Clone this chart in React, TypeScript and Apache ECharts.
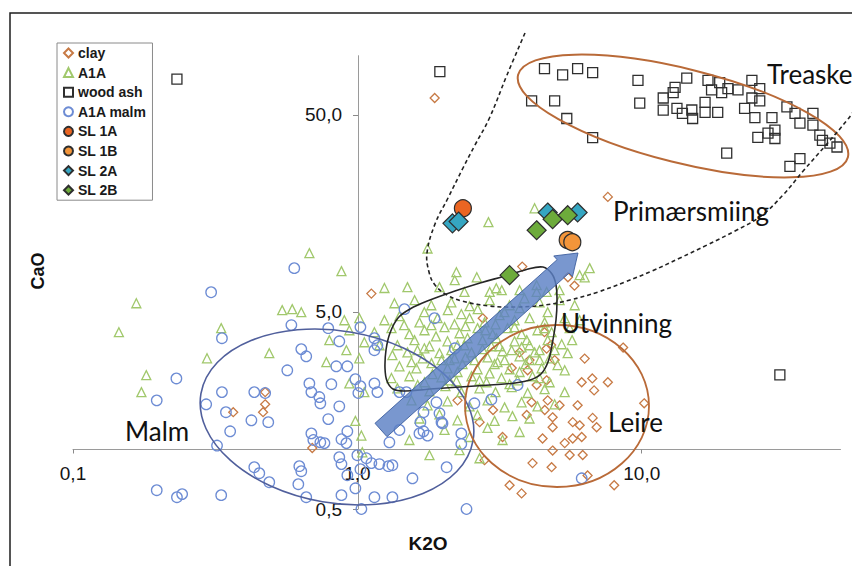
import React, { useEffect, useRef } from 'react';
import * as echarts from 'echarts';

// [K2O, CaO] pairs
const clay: number[][] = [
  [1.87, 61], [7.6, 19.2], [1.12, 6.2], [3.8, 8.5], [5.5, 7.5], [5.8, 6.8], [2.76, 4.65],
  [4.55, 3.95], [4.63, 3.26], [4.8, 3.4], [4.94, 2.85], [3.72, 3.12], [4.03, 2.85], [3.97, 2.53], [3.49, 2.6],
  [6.3, 2.9], [8.6, 3.3], [6.15, 2.2], [6.7, 2.3], [7.6, 2.2], [6.8, 2.0], [4.63, 2.25], [4.27, 2.13],
  [4.1, 1.74], [4.67, 1.78], [5.14, 1.68], [5.95, 1.68], [10.2, 1.72], [2.25, 1.78], [3.0, 1.59], [3.94, 1.5],
  [4.56, 1.59], [4.86, 1.46], [4.86, 1.3], [5.72, 1.38], [6.05, 1.33], [6.72, 1.45], [6.94, 1.3], [2.69, 1.38],
  [3.24, 1.16], [4.48, 1.14], [5.36, 1.08], [5.72, 1.14], [6.15, 1.16], [4.86, 0.99], [5.58, 0.94], [6.2, 0.94],
  [2.8, 0.885], [4.13, 0.855], [4.82, 0.815], [6.45, 0.74], [3.43, 0.66], [3.78, 0.6], [8.0, 0.66],
  [0.474, 1.96], [0.366, 1.55], [0.466, 1.55], [0.474, 1.7], [0.694, 1.02]
];

const a1a: number[][] = [
  [0.167, 5.54], [0.145, 3.95], [0.332, 4.14], [0.296, 2.91], [0.181, 2.39], [0.174, 1.96], [0.49, 3.09],
  [0.544, 5.11], [0.59, 5.17], [0.635, 4.99], [0.678, 9.95], [0.879, 8.06], [0.984, 1.4], [0.9, 4.54],
  [0.915, 3.2], [1.016, 2.91], [0.937, 2.17], [0.797, 3.6], [0.778, 2.78], [2.89, 14.3], [4.2, 16.8],
  [1.765, 10.5], [2.23, 7.96], [2.63, 7.5], [1.5, 6.69], [1.245, 6.62], [1.944, 6.69], [2.38, 6.32],
  [2.92, 6.32], [3.08, 6.6], [4.27, 6.32], [4.63, 6.32], [6.05, 7.69], [6.3, 7.5], [6.56, 8.35], [3.22, 6.45], [4.27, 6.84],
  [1.35, 5.54], [1.59, 5.74], [1.82, 5.41], [2.14, 5.6], [2.48, 5.35], [2.92, 5.74], [3.43, 5.41], [3.87, 5.87],
  [4.37, 5.6], [5.14, 5.74], [5.81, 5.41],
  [1.016, 4.65], [1.245, 4.54], [1.406, 4.76], [1.653, 4.43], [1.913, 4.65], [2.196, 4.33], [2.48, 4.65],
  [2.8, 4.43], [3.162, 4.82], [3.571, 4.54], [4.033, 4.65], [4.555, 4.43], [5.357, 4.65],
  [0.937, 4.04], [1.148, 3.95], [1.318, 4.14], [1.524, 3.86], [1.722, 4.04], [2.025, 4.19], [2.287, 3.9],
  [2.646, 4.14], [2.99, 3.86], [3.374, 4.14], [3.78, 3.86], [4.3, 4.04], [4.82, 3.95], [5.58, 4.14],
  [1.058, 3.51], [1.383, 3.39], [1.588, 3.6], [1.793, 3.35], [2.075, 3.55], [2.381, 3.39], [2.755, 3.6],
  [3.162, 3.35], [3.571, 3.55], [4.033, 3.39], [4.67, 3.6], [5.23, 3.43],
  [1.328, 3.02], [1.5, 3.12], [1.695, 2.91], [1.944, 3.09], [2.196, 2.91], [2.52, 3.12], [2.87, 2.94],
  [3.24, 3.16], [3.719, 2.98], [4.2, 3.12], [4.744, 2.91], [5.49, 3.09],
  [1.406, 2.65], [1.613, 2.59], [1.822, 2.75], [2.075, 2.59], [2.343, 2.72], [2.646, 2.56], [3.037, 2.72],
  [3.429, 2.56], [3.904, 2.72], [4.446, 2.59], [5.06, 2.69],
  [1.318, 2.31], [1.524, 2.36], [1.722, 2.2], [1.976, 2.33], [2.23, 2.23], [2.52, 2.36], [2.845, 2.2],
  [3.213, 2.31], [3.66, 2.25], [4.13, 2.36], [4.744, 2.2],
  [1.058, 1.96], [1.383, 2.05], [1.793, 1.98], [2.04, 2.1], [2.32, 1.96], [2.689, 2.05], [3.06, 1.96],
  [3.487, 2.08], [3.97, 1.94], [4.555, 2.03], [5.357, 1.96],
  [1.55, 1.78], [1.765, 1.68], [2.075, 1.76], [2.48, 1.66], [2.87, 1.78], [3.293, 1.64], [3.78, 1.74],
  [4.3, 1.66], [4.94, 1.7],
  [1.653, 1.44], [1.944, 1.51], [2.25, 1.41], [2.646, 1.5], [3.037, 1.4], [3.51, 1.48], [4.03, 1.44],
  [1.033, 1.18], [1.524, 1.12], [2.025, 1.26], [2.48, 1.16], [2.87, 1.29], [3.24, 1.12], [3.72, 1.23],
  [1.041, 0.97], [1.793, 0.938], [2.287, 0.994], [2.689, 0.905],
  [1.89, 3.76], [2.14, 3.2], [2.44, 3.68], [2.755, 3.24], [3.085, 3.68], [3.487, 3.2], [3.94, 3.6],
  [1.976, 2.85], [2.25, 2.48], [2.582, 2.85], [2.916, 2.44], [3.293, 2.85], [3.719, 2.48], [1.837, 2.42],
  [2.4, 4.24], [3.06, 4.33], [1.627, 3.2], [4.374, 2.85], [4.94, 3.2], [1.195, 3.39],
  [1.72, 4.99], [2.08, 5.11], [2.32, 4.88], [2.65, 5.17], [3.29, 4.99], [3.72, 5.23], [4.67, 4.99],
  [1.46, 4.29], [1.82, 4.29], [2.82, 4.04], [3.57, 4.19], [4.56, 4.14], [1.72, 3.27], [2.25, 3.39],
  [2.96, 3.35], [3.78, 3.31], [4.37, 3.2], [1.55, 2.78], [2.11, 2.85], [2.4, 2.94], [3.11, 2.78],
  [4.03, 2.85], [1.63, 2.13], [2.11, 2.25], [2.69, 2.25], [3.43, 2.15], [4.37, 2.31], [5.36, 2.53],
  [5.69, 3.6], [6.05, 4.54], [5.14, 6.45], [3.72, 6.45], [2.2, 7.25]
];

const woodAsh: number[][] = [
  [0.232, 76], [1.95, 83], [30.6, 2.4], [4.1, 59], [4.55, 86], [4.94, 59], [5.27, 80], [5.45, 48],
  [5.95, 86], [6.72, 82], [6.72, 38.4], [9.7, 75], [9.84, 57.4], [11.9, 61], [11.9, 52.9], [12.9, 65],
  [13.1, 69], [13.3, 54], [14.4, 77], [13.9, 51], [15.1, 48], [15.0, 53], [16.7, 58], [16.7, 51.5],
  [17.1, 75], [17.6, 67], [18.5, 51.5], [18.8, 73], [19.1, 65], [20.1, 68], [21.8, 67], [23.0, 54],
  [24.4, 75], [24.4, 61], [25.0, 48.5], [26.0, 68], [26.0, 59], [28.7, 48.5], [32.4, 55], [34.6, 51],
  [36.0, 45.5], [40.0, 51], [40.0, 44.4], [25.6, 38.5], [27.8, 40.5], [29.4, 41.9], [29.4, 38.0],
  [42.3, 39.5], [43.2, 37.2], [45.9, 36.0], [48.6, 34.4], [19.9, 32.0], [36.0, 30.0], [33.2, 27.4]
];

const a1aMalm: number[][] = [
  [0.6, 8.35], [0.306, 6.3], [0.586, 4.29], [0.334, 3.68], [0.79, 4.14], [0.864, 3.55], [0.635, 3.24],
  [0.661, 2.98], [0.567, 2.53], [0.843, 2.65], [0.922, 2.65], [0.231, 2.3], [0.197, 1.78], [0.334, 1.96],
  [0.294, 1.7], [0.345, 1.55], [0.357, 1.24], [0.424, 1.41], [0.434, 1.96], [0.474, 1.94], [0.486, 1.38],
  [0.678, 2.17], [0.689, 1.96], [0.81, 2.15], [0.735, 1.85], [0.741, 1.72], [0.864, 1.66], [0.79, 1.43],
  [0.689, 1.21], [0.7, 1.12], [0.741, 1.09], [0.879, 1.13], [0.922, 1.24], [0.984, 2.28], [1.025, 2.1],
  [1.008, 1.94], [1.148, 2.17], [1.176, 1.96], [1.025, 4.19], [1.148, 3.68], [1.176, 3.39], [1.148, 3.2],
  [1.464, 5.17], [1.867, 4.65], [1.406, 1.96], [1.488, 1.96], [1.708, 1.55], [1.666, 1.38], [1.708, 1.24],
  [2.32, 1.21], [2.32, 1.07], [2.96, 1.8], [2.2, 3.27], [3.66, 2.13], [2.58, 1.72], [1.944, 1.53],
  [1.976, 1.38], [2.06, 0.815], [1.562, 0.716], [1.286, 0.825], [1.195, 0.845], [1.12, 0.855],
  [1.328, 0.834], [1.025, 0.796], [1.076, 0.905], [0.984, 0.637], [0.879, 0.845], [0.879, 0.588],
  [1.033, 0.5], [1.148, 0.574], [1.328, 0.574], [0.635, 0.778], [0.62, 0.668], [0.661, 0.574],
  [0.434, 0.815], [0.452, 0.76], [0.49, 0.684], [0.197, 0.623], [0.232, 0.574], [0.242, 0.595],
  [0.332, 0.588], [0.321, 1.05], [1.296, 1.09], [1.406, 1.26], [1.653, 1.21], [1.765, 1.18], [1.992, 1.36],
  [2.42, 0.5], [6.15, 0.716], [0.864, 0.916], [1.0, 0.938], [0.766, 1.08], [0.915, 1.08], [1.897, 1.74],
  [0.922, 0.742], [0.625, 0.825]
];

const sl1a: number[][] = [[2.35, 16.8]];
const sl1b: number[][] = [[5.49, 11.6], [5.7, 11.3]];
const sl2a: number[][] = [[2.16, 14.1], [2.27, 14.4], [4.67, 16.0], [5.95, 16.0]];
const sl2b: number[][] = [[4.27, 13.0], [4.86, 14.8], [5.49, 15.5], [3.43, 7.69]];

const xTicks = [0.1, 1, 10];
const yTickLabels = ['0,5', '5,0', '50,0'];

const FONT = '"Liberation Sans", Arial, sans-serif';
const ANN_FONT = 'Lato, "Open Sans", sans-serif';

function hollow(name: string, data: number[][], symbol: string, size: number, color: string) {
  return {
    type: 'scatter', name, data, symbol, symbolSize: size, silent: true,
    itemStyle: { color: 'rgba(255,255,255,0)', borderColor: color, borderWidth: 1.3, opacity: 1 },
    emphasis: { disabled: true }, z: 3
  };
}
function filled(name: string, data: number[][], symbol: string, size: number, color: string) {
  return {
    type: 'scatter', name, data, symbol, symbolSize: size, silent: true,
    itemStyle: { color, borderColor: '#2e2e2e', borderWidth: 1.2, opacity: 1 },
    emphasis: { disabled: true }, z: 30
  };
}

function annText(text: string, x: number, y: number) {
  return {
    type: 'text', x, y, z: 40,
    style: { text, fontSize: 26, fontFamily: ANN_FONT, fill: '#111', align: 'left', verticalAlign: 'middle', textAlign: 'left', textVerticalAlign: 'middle' }
  };
}

export default function App() {
  const ref = useRef<HTMLDivElement>(null);
  useEffect(() => {
    const chart = echarts.init(ref.current!, null, { renderer: 'svg' });

    // arrow geometry (annotation)
    const tail = [381, 430], tip = [578, 253];
    const dx = tip[0] - tail[0], dy = tip[1] - tail[1];
    const L = Math.hypot(dx, dy);
    const ux = dx / L, uy = dy / L, nx = -uy, ny = ux;
    const hw = 9, hh = 14, hl = 20;
    const neck = [tip[0] - ux * hl, tip[1] - uy * hl];
    const arrowPts = [
      [tail[0] - nx * hw, tail[1] - ny * hw],
      [neck[0] - nx * hw, neck[1] - ny * hw],
      [neck[0] - nx * hh, neck[1] - ny * hh],
      tip,
      [neck[0] + nx * hh, neck[1] + ny * hh],
      [neck[0] + nx * hw, neck[1] + ny * hw],
      [tail[0] + nx * hw, tail[1] + ny * hw]
    ];

    const dashedPts = [
      [525, 33], [507, 75], [489, 119], [475, 145], [463, 168], [448, 198], [435, 224], [427, 253],
      [429, 272], [435, 285], [447, 295], [462, 301], [489, 306], [516, 307], [545, 305], [570, 300],
      [598, 292], [625, 282], [652, 271], [680, 258], [707, 245], [735, 231], [761, 216], [783, 195],
      [804, 170], [826, 145], [848, 119], [858, 105]
    ];
    const loopPts = [
      [543, 267], [552, 274], [556, 285], [557, 300], [556, 320], [552, 345], [548, 362], [541, 374],
      [530, 380], [515, 383], [490, 385], [460, 387], [430, 389], [405, 391], [393, 389], [387, 381],
      [385, 368], [386, 350], [390, 333], [398, 318], [410, 309], [430, 300], [455, 291], [480, 283],
      [505, 276], [525, 270]
    ];

    chart.setOption({
      animation: false,
      backgroundColor: '#ffffff',
      textStyle: { fontFamily: FONT },
      grid: { left: 73, right: 11.5, top: 55.7, bottom: 57, outerBoundsMode: 'none', containLabel: false },
      xAxis: {
        type: 'log', logBase: 10, min: xTicks[0], max: 50, offset: -59.5,
        axisLine: { show: true, lineStyle: { color: '#9a9a9a', width: 1 } },
        axisTick: { show: true, length: 4, lineStyle: { color: '#8a8a8a' } },
        axisLabel: {
          show: true, margin: 14, fontSize: 19, color: '#141414', fontFamily: FONT,
          showMaxLabel: false,
          formatter: (v: number) => Number(v).toFixed(1).replace('.', ',')
        },
        splitLine: { show: false }, minorTick: { show: false }
      },
      yAxis: [
        {
          type: 'log', logBase: 10, min: 0.5, max: 100, position: 'left', offset: -285,
          axisLine: { show: true, lineStyle: { color: '#9a9a9a', width: 1 } },
          axisTick: { show: false }, axisLabel: { show: false }, splitLine: { show: false }
        },
        {
          type: 'value', position: 'left', offset: -285,
          min: Math.log10(0.5), max: 2, interval: 1,
          axisLine: { show: false },
          axisTick: { show: true, length: 5, lineStyle: { color: '#8a8a8a' } },
          axisLabel: {
            show: true, margin: 16, fontSize: 19, color: '#141414', fontFamily: FONT,
            showMaxLabel: false,
            formatter: (v: number) => {
              const r = Number(Math.pow(10, v).toPrecision(1)).toFixed(1).replace('.', ',');
              return yTickLabels.indexOf(r) >= 0 ? r : '';
            }
          },
          splitLine: { show: false }
        }
      ],
      legend: {
        left: 57, top: 43, orient: 'vertical',
        itemWidth: 9, itemHeight: 9, itemGap: 5.6,
        padding: [3, 6, 3, 6],
        borderColor: '#8a8a8a', borderWidth: 1, backgroundColor: '#ffffff',
        selectedMode: false,
        textStyle: { fontFamily: FONT, fontSize: 14, fontWeight: 'bold', color: '#1a1a1a', lineHeight: 14 },
        data: ['clay', 'A1A', 'wood ash', 'A1A malm', 'SL 1A', 'SL 1B', 'SL 2A', 'SL 2B']
      },
      series: [
        hollow('clay', clay, 'diamond', 9, '#c77a45'),
        hollow('A1A', a1a, 'triangle', 9, '#a1c86c'),
        hollow('wood ash', woodAsh, 'rect', 10, '#2f2f2f'),
        hollow('A1A malm', a1aMalm, 'circle', 10.5, '#6d8cd4'),
        filled('SL 1A', sl1a, 'circle', 17, '#ea6522'),
        filled('SL 1B', sl1b, 'circle', 17, '#f3953a'),
        filled('SL 2A', sl2a, 'diamond', 19, '#35a6c2'),
        filled('SL 2B', sl2b, 'diamond', 19, '#6dab3b')
      ],
      graphic: [
        { type: 'rect', z: 50, shape: { x: 10, y: 13, width: 860, height: 580 }, style: { fill: 'none', stroke: '#1e1e1e', lineWidth: 1.5 } },
        { type: 'ellipse', x: 337, y: 417, rotation: -0.17, z: 20, shape: { cx: 0, cy: 0, rx: 138, ry: 86 }, style: { fill: 'none', stroke: '#505f9c', lineWidth: 1.6 } },
        { type: 'ellipse', x: 557, y: 406, z: 20, shape: { cx: 0, cy: 0, rx: 92, ry: 81 }, style: { fill: 'none', stroke: '#b96a38', lineWidth: 1.8 } },
        { type: 'ellipse', x: 683, y: 116, rotation: -0.244, z: 20, shape: { cx: 0, cy: 0, rx: 170, ry: 47 }, style: { fill: 'none', stroke: '#b96a38', lineWidth: 2 } },
        { type: 'polyline', z: 20, shape: { points: dashedPts, smooth: 0.4 }, style: { fill: 'none', stroke: '#222', lineWidth: 1.6, lineDash: [4, 3] } },
        { type: 'polygon', z: 20, shape: { points: loopPts, smooth: 0.4 }, style: { fill: 'none', stroke: '#262626', lineWidth: 1.6 } },
        { type: 'polygon', z: 25, shape: { points: arrowPts }, style: { fill: 'rgba(92,128,196,0.82)', stroke: 'rgba(62,95,158,0.9)', lineWidth: 1 } },
        annText('Treaske', 767, 74),
        annText('Primærsmiing', 613, 211),
        annText('Utvinning', 561, 323),
        annText('Leire', 608, 422),
        annText('Malm', 125, 431),
        { type: 'text', x: 38, y: 271, rotation: Math.PI / 2, z: 40, style: { text: 'CaO', fontSize: 18, fontWeight: 'bold', fontFamily: FONT, fill: '#111', align: 'center', verticalAlign: 'middle', textAlign: 'center', textVerticalAlign: 'middle' } },
        { type: 'text', x: 428, y: 543, z: 40, style: { text: 'K2O', fontSize: 19, fontWeight: 'bold', fontFamily: FONT, fill: '#111', align: 'center', verticalAlign: 'middle', textAlign: 'center', textVerticalAlign: 'middle' } }
      ]
    });
    return () => chart.dispose();
  }, []);
  return <div ref={ref} style={{ position: 'fixed', left: 0, top: 0, width: 852, height: 566, background: '#fff' }} />;
}
